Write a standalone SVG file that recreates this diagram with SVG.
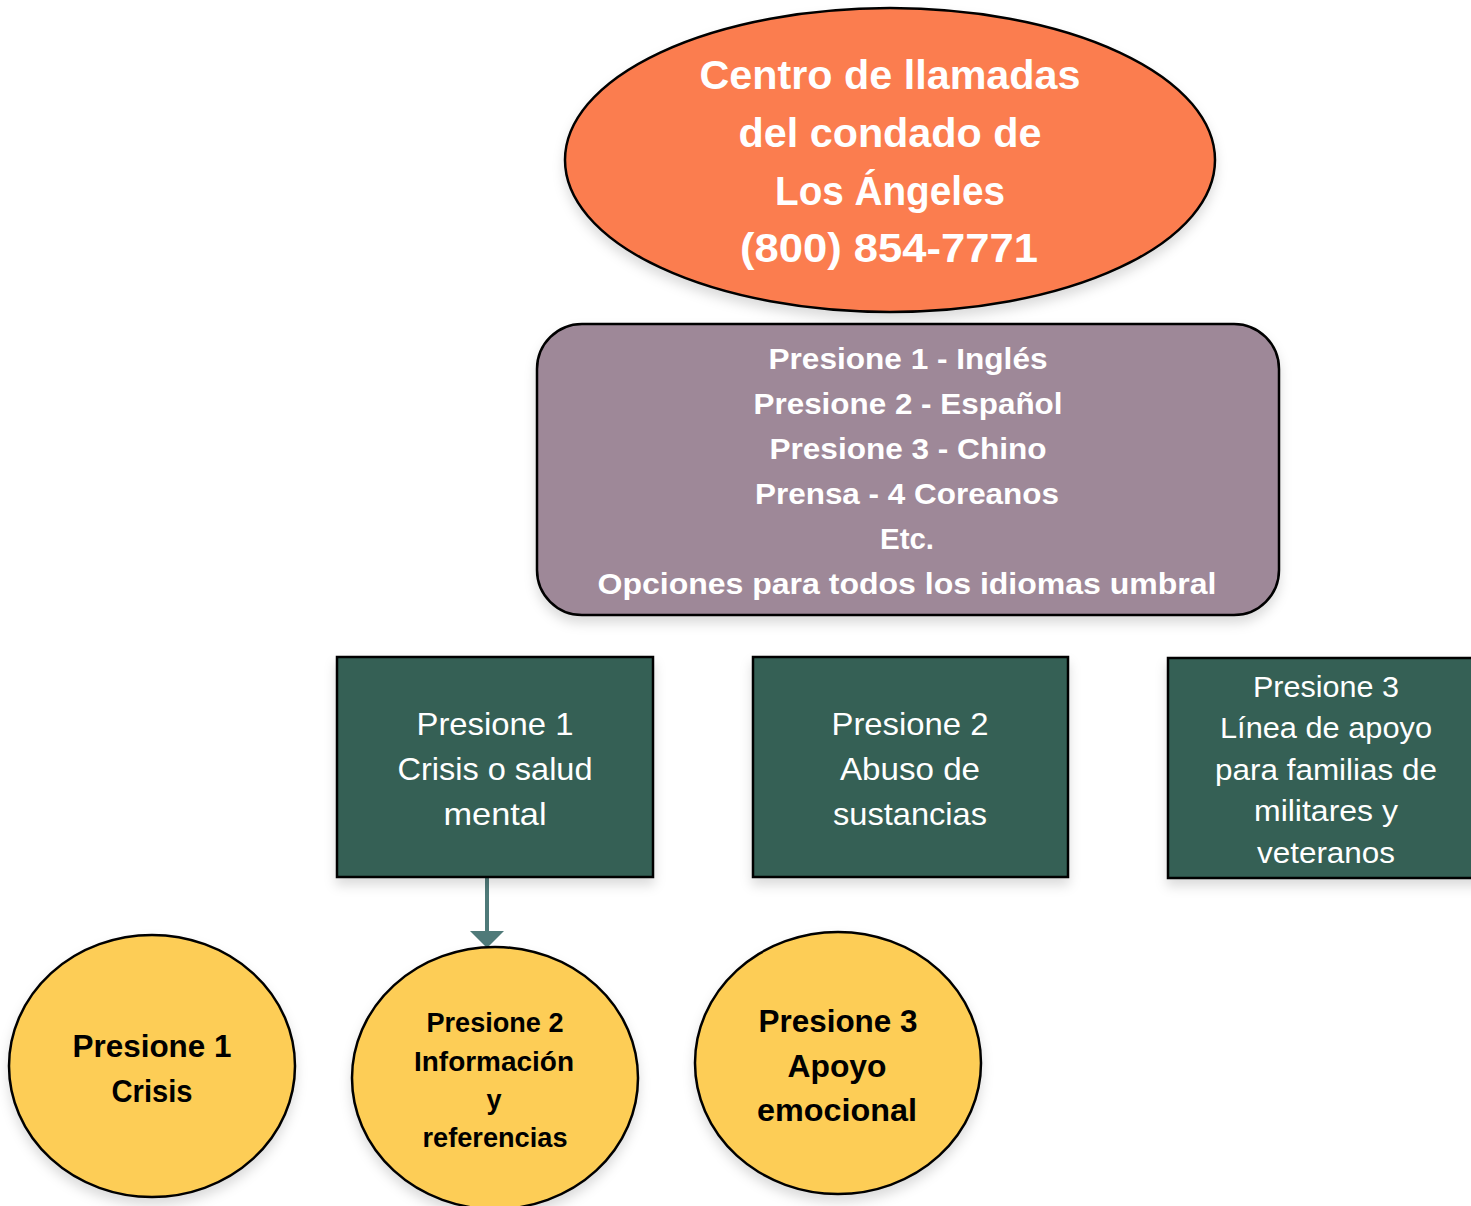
<svg xmlns="http://www.w3.org/2000/svg" width="1471" height="1206" viewBox="0 0 1471 1206">
<defs>
<style>
.bt{font-family:"Liberation Sans",Arial,sans-serif;font-weight:bold;fill:#fff;text-anchor:middle}
.gt{font-family:"Liberation Sans",Arial,sans-serif;fill:#fff;text-anchor:middle}
.yt{font-family:"Liberation Sans",Arial,sans-serif;font-weight:bold;fill:#000;text-anchor:middle}
.ell{fill:#FB7D4F;stroke:#000;stroke-width:2.5}
.pur{fill:#9E8898;stroke:#000;stroke-width:2.5}
.grn{fill:#366055;stroke:#000;stroke-width:2.5}
.yel{fill:#FDCD56;stroke:#000;stroke-width:2.5}
</style>
<filter id="sh" x="-10%" y="-10%" width="120%" height="130%">
<feDropShadow dx="0" dy="7" stdDeviation="6" flood-color="#000" flood-opacity="0.14"/>
</filter>
</defs>

<g id="connectors">
<line x1="487" y1="878" x2="487" y2="932" stroke="#4F7A79" stroke-width="4"/>
<path d="M470,931 L504,931 L487,948 Z" fill="#4F7A79"/>
</g>

<g id="node-centro">
<ellipse class="ell" cx="890" cy="160" rx="325" ry="152" filter="url(#sh)"/>
<text class="bt" font-size="41" x="890" y="89" textLength="381" lengthAdjust="spacingAndGlyphs">Centro de llamadas</text>
<text class="bt" font-size="41" x="890" y="147" textLength="303" lengthAdjust="spacingAndGlyphs">del condado de</text>
<text class="bt" font-size="41" x="890" y="205" textLength="230" lengthAdjust="spacingAndGlyphs">Los Ángeles</text>
<text class="bt" font-size="41" x="889" y="262" textLength="298" lengthAdjust="spacingAndGlyphs">(800) 854-7771</text>
</g>

<g id="node-idiomas">
<rect class="pur" x="537" y="324" width="742" height="291" rx="45" ry="45" filter="url(#sh)"/>
<text class="bt" font-size="30" x="908" y="369" textLength="279" lengthAdjust="spacingAndGlyphs">Presione 1 - Inglés</text>
<text class="bt" font-size="30" x="908" y="414" textLength="309" lengthAdjust="spacingAndGlyphs">Presione 2 - Español</text>
<text class="bt" font-size="30" x="908" y="459" textLength="277" lengthAdjust="spacingAndGlyphs">Presione 3 - Chino</text>
<text class="bt" font-size="30" x="907" y="504" textLength="304" lengthAdjust="spacingAndGlyphs">Prensa - 4 Coreanos</text>
<text class="bt" font-size="30" x="907" y="549" textLength="54" lengthAdjust="spacingAndGlyphs">Etc.</text>
<text class="bt" font-size="30" x="907" y="594" textLength="619" lengthAdjust="spacingAndGlyphs">Opciones para todos los idiomas umbral</text>
</g>

<g id="node-crisis-salud">
<rect class="grn" x="337" y="657" width="316" height="220" filter="url(#sh)"/>
<text class="gt" font-size="32" x="495" y="735" textLength="157" lengthAdjust="spacingAndGlyphs">Presione 1</text>
<text class="gt" font-size="32" x="495" y="780" textLength="195" lengthAdjust="spacingAndGlyphs">Crisis o salud</text>
<text class="gt" font-size="32" x="495" y="825" textLength="103" lengthAdjust="spacingAndGlyphs">mental</text>
</g>

<g id="node-sustancias">
<rect class="grn" x="753" y="657" width="315" height="220" filter="url(#sh)"/>
<text class="gt" font-size="32" x="910" y="735" textLength="157" lengthAdjust="spacingAndGlyphs">Presione 2</text>
<text class="gt" font-size="32" x="910" y="780" textLength="140" lengthAdjust="spacingAndGlyphs">Abuso de</text>
<text class="gt" font-size="32" x="910" y="825" textLength="154" lengthAdjust="spacingAndGlyphs">sustancias</text>
</g>

<g id="node-militares">
<rect class="grn" x="1168" y="658" width="320" height="220" filter="url(#sh)"/>
<text class="gt" font-size="30" x="1326" y="697" textLength="146" lengthAdjust="spacingAndGlyphs">Presione 3</text>
<text class="gt" font-size="30" x="1326" y="738" textLength="212" lengthAdjust="spacingAndGlyphs">Línea de apoyo</text>
<text class="gt" font-size="30" x="1326" y="780" textLength="222" lengthAdjust="spacingAndGlyphs">para familias de</text>
<text class="gt" font-size="30" x="1326" y="821" textLength="144" lengthAdjust="spacingAndGlyphs">militares y</text>
<text class="gt" font-size="30" x="1326" y="863" textLength="138" lengthAdjust="spacingAndGlyphs">veteranos</text>
</g>

<g id="node-crisis">
<ellipse class="yel" cx="152" cy="1066" rx="143" ry="131" filter="url(#sh)"/>
<text class="yt" font-size="32" x="152" y="1057" textLength="159" lengthAdjust="spacingAndGlyphs">Presione 1</text>
<text class="yt" font-size="32" x="152" y="1102" textLength="81" lengthAdjust="spacingAndGlyphs">Crisis</text>
</g>

<g id="node-informacion">
<ellipse class="yel" cx="495" cy="1078" rx="143" ry="131" filter="url(#sh)"/>
<text class="yt" font-size="27" x="495" y="1032" textLength="137" lengthAdjust="spacingAndGlyphs">Presione 2</text>
<text class="yt" font-size="27" x="494" y="1071" textLength="160" lengthAdjust="spacingAndGlyphs">Información</text>
<text class="yt" font-size="27" x="494" y="1109">y</text>
<text class="yt" font-size="27" x="495" y="1147" textLength="145" lengthAdjust="spacingAndGlyphs">referencias</text>
</g>

<g id="node-emocional">
<ellipse class="yel" cx="838" cy="1063" rx="143" ry="131" filter="url(#sh)"/>
<text class="yt" font-size="32" x="838" y="1032" textLength="159" lengthAdjust="spacingAndGlyphs">Presione 3</text>
<text class="yt" font-size="32" x="837" y="1077" textLength="99" lengthAdjust="spacingAndGlyphs">Apoyo</text>
<text class="yt" font-size="32" x="837" y="1121" textLength="160" lengthAdjust="spacingAndGlyphs">emocional</text>
</g>
</svg>
